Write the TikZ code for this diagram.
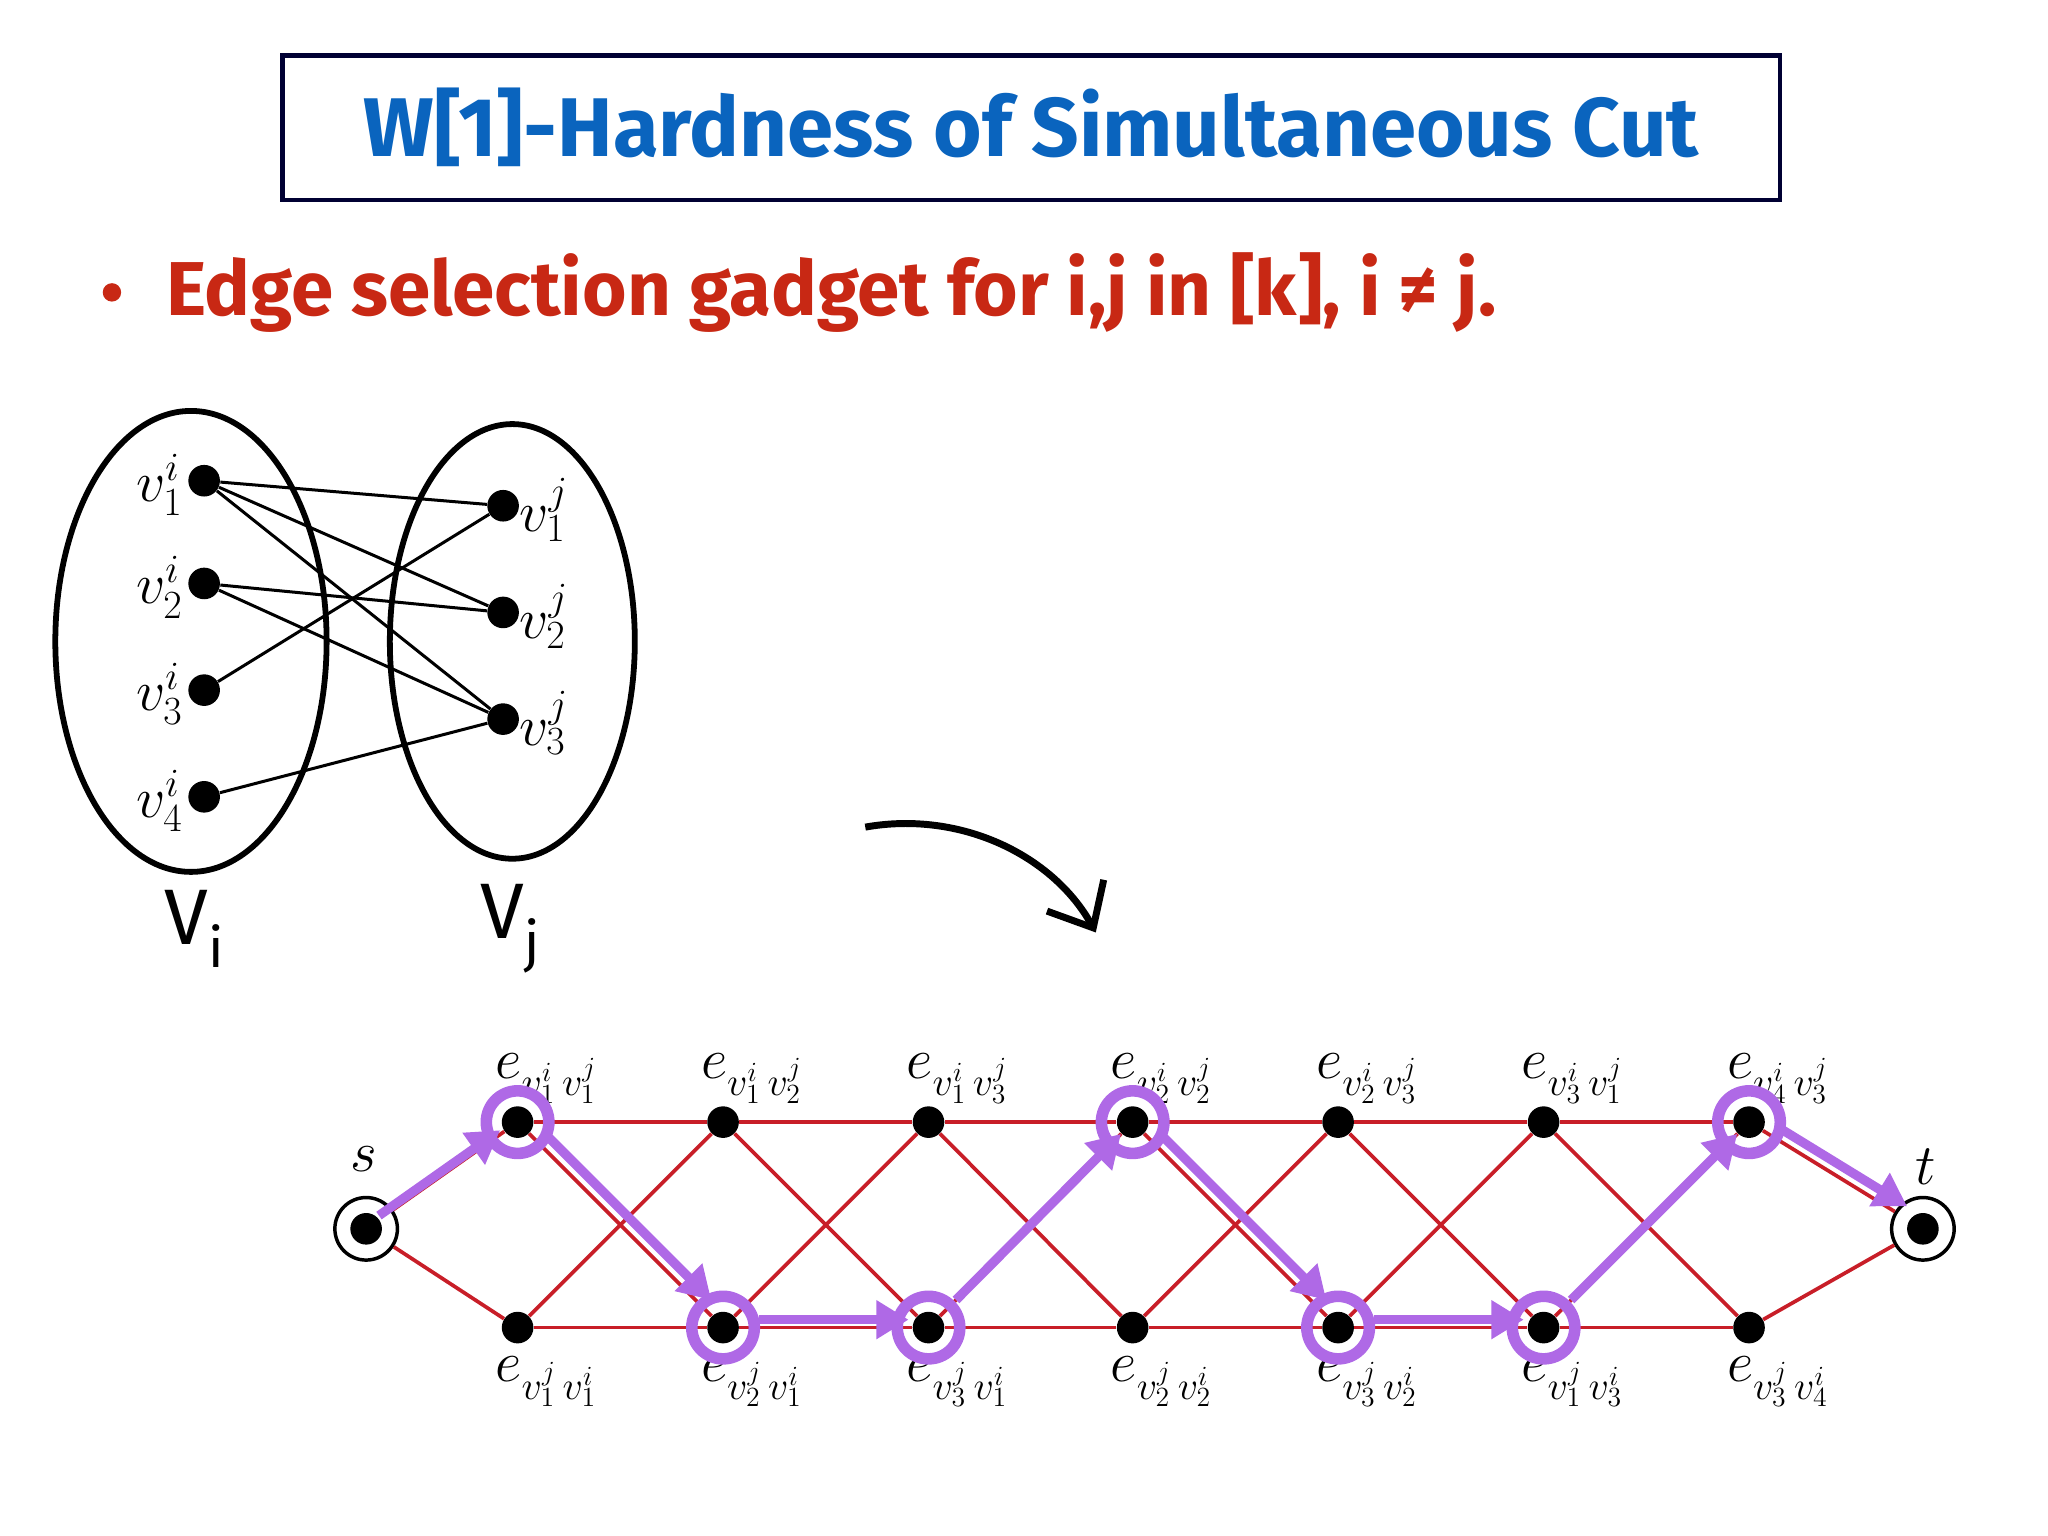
\documentclass[tikz,border=0pt]{standalone}
\usepackage{fontspec}
\setsansfont{Fira Sans}
\usetikzlibrary{arrows.meta,calc}
\definecolor{tblue}{RGB}{10,100,190}
\definecolor{tred}{RGB}{200,40,20}
\definecolor{ered}{RGB}{200,30,40}
\definecolor{pur}{RGB}{175,105,230}
\begin{document}
\begin{tikzpicture}[x=0.02cm,y=-0.02cm,
  dot/.style={circle,fill=black,inner sep=0pt,minimum size=0.48cm},
  hl/.style={circle,draw=pur,line width=5pt,minimum size=0.95cm,inner sep=0pt},
  ring/.style={circle,draw=black,line width=1.5pt,fill=white,minimum size=0.95cm,inner sep=0pt},
  bedge/.style={line width=1.3pt},
  redge/.style={ered,line width=1.6pt},
  parr/.style={pur,line width=4pt,-{Triangle[length=14pt,width=16pt]},shorten >=12pt,shorten <=12pt},
  lab/.style={font=\fontsize{26}{30}\selectfont}]
\useasboundingbox (0,0) rectangle (1555,1166);
% title
\node[draw=black!80!blue,line width=2pt,minimum width=22.74cm,minimum height=2.2cm] (title) at (783,97)
 {\sffamily\bfseries\fontsize{36}{40}\selectfont\color{tblue} W[1]-Hardness of Simultaneous Cut};
\fill[tred] (85,222) circle (7);
\node[anchor=west,text=tred] (bul) at (120,222) {\sffamily\bfseries\fontsize{33}{36}\selectfont Edge selection gadget for i,j in [k], i ≠ j.};
% left graph
\draw[line width=2.5pt] (145,487) ellipse [x radius=103,y radius=175];
\draw[line width=2.5pt] (389,487) ellipse [x radius=93,y radius=165];
\foreach \n/\y in {1/365,2/443,3/524,4/605}{
 \node[dot] (a\n) at (155,\y) {};
 \node[lab,anchor=east] at (145,\y+3) {$v^i_{\n}$};}
\foreach \n/\y in {1/384,2/465,3/546}{
 \node[dot] (b\n) at (382,\y) {};
 \node[lab,anchor=west] at (388,\y+3) {$v^j_{\n}$};}
\foreach \p/\q in {a1/b1,a1/b2,a1/b3,a2/b2,a2/b3,a3/b1,a4/b3}
 \draw[bedge] (\p) -- (\q);
\node[font=\sffamily\fontsize{34}{38}\selectfont] (vi) at (148,705) {V\textsubscript{i}};
\node[font=\sffamily\fontsize{34}{38}\selectfont] (vj) at (388,705) {V\textsubscript{j}};
% curved arrow
\coordinate (ca) at (657,628);
\coordinate (cb) at (832,708);
\draw[line width=3pt,-{Straight Barb[length=16pt,width=28pt,line width=3pt]}] (ca) .. controls (730,615) and (800,650) .. (cb);
% bottom gadget
\node[ring] (s) at (278,933) {}; \node[dot] at (s) {};
\node[ring] (t) at (1460,933) {}; \node[dot] at (t) {};
\node[lab] at (276,880) {$s$};
\node[lab] at (1462,886) {$t$};
\foreach \k/\x in {1/393,2/549,3/705,4/860,5/1016,6/1172,7/1328}{
 \node[dot] (T\k) at (\x,852) {};
 \node[dot] (B\k) at (\x,1008) {};}
\foreach \k/\a/\b in {1/1/1,2/1/2,3/1/3,4/2/2,5/2/3,6/3/1,7/4/3}
 \node[lab,anchor=south] at ($(T\k)+(22,-8)$) {$e_{v^i_{\a}\,v^j_{\b}}$};
\foreach \k/\a/\b in {1/1/1,2/2/1,3/3/1,4/2/2,5/3/2,6/1/3,7/3/4}
 \node[lab,anchor=north] at ($(B\k)+(22,16)$) {$e_{v^j_{\a}\,v^i_{\b}}$};
\draw[redge] (s) -- (T1); \draw[redge] (s) -- (B1);
\draw[redge] (T7) -- (t); \draw[redge] (B7) -- (t);
\foreach \k [evaluate=\k as \m using int(\k+1)] in {1,...,6}{
 \draw[redge] (T\k) -- (T\m); \draw[redge] (B\k) -- (B\m);
 \draw[redge] (T\k) -- (B\m); \draw[redge] (B\k) -- (T\m);}
\foreach \n in {T1,B2,B3,T4,B5,B6,T7} \node[hl] at (\n) {};
\draw[parr,shorten <=4pt] ($(s)+(4,-6)$) -- ($(T1)+(4,-6)$);
\foreach \p/\q in {T1/B2,B2/B3,B3/T4,T4/B5,B5/B6,B6/T7,T7/t}
 \draw[parr] ($(\p)+(6,-6)$) -- ($(\q)+(6,-6)$);
\end{tikzpicture}
\end{document}
